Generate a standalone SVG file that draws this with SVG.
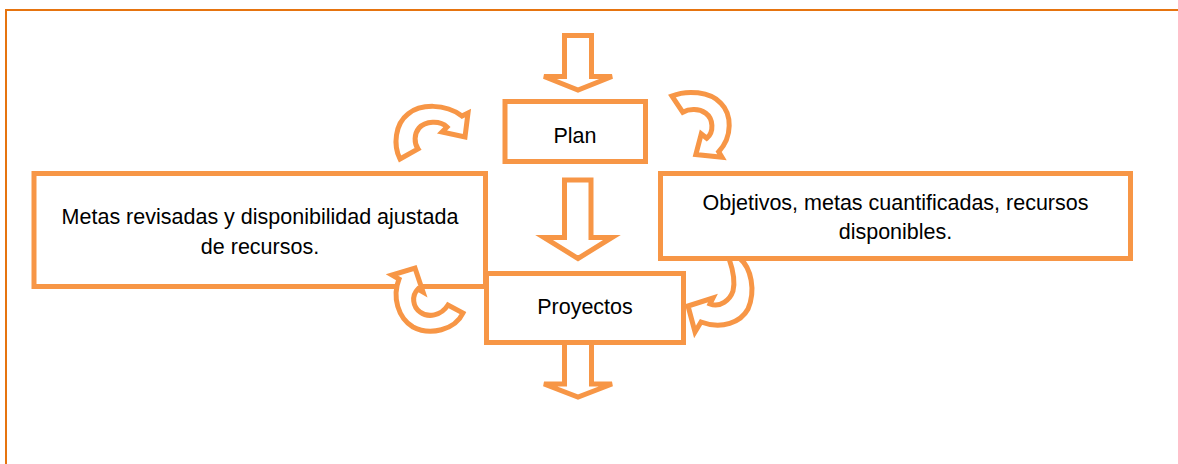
<svg xmlns="http://www.w3.org/2000/svg" width="1178" height="464" viewBox="0 0 1178 464">
<style>
.box{fill:#fff;stroke:#F79646;stroke-width:5}
.arr{fill:#fff;stroke:#F79646;stroke-width:5;stroke-linejoin:miter}
.curl{fill:#fff;stroke:#F79646;stroke-width:5;stroke-linejoin:miter}
.lbl{font-family:"Liberation Sans",Arial,sans-serif;font-size:21.5px;fill:#000;text-anchor:middle}
</style>
<defs>
<path id="curl" class="curl" vector-effect="non-scaling-stroke" d="M-30,24 C-37,10 -35,-11 -22,-21 C-10,-31 15,-32 32,-19 L38,-22 L35,2 L12,-3 L17,-8 C10,-15 -5,-14 -11,-7 C-16,-1 -16,8 -12,14 Z"/>
</defs>
<rect width="1178" height="464" fill="#fff"/>
<path d="M6,470 V10 H1180" fill="none" stroke="#E6740F" stroke-width="2"/>
<g id="node-plan">
<rect class="box" x="505" y="101.5" width="140.5" height="60"/>
<text class="lbl" x="575" y="143">Plan</text>
</g>
<g id="node-metas">
<rect class="box" x="34" y="173.5" width="451.5" height="113"/>
<text class="lbl" x="260" y="224">Metas revisadas y disponibilidad ajustada</text>
<text class="lbl" x="260" y="254">de recursos.</text>
</g>
<g id="node-objetivos">
<rect class="box" x="660.5" y="173.5" width="470" height="85"/>
<text class="lbl" x="895.5" y="210">Objetivos, metas cuantificadas, recursos</text>
<text class="lbl" x="895.5" y="239">disponibles.</text>
</g>
<g id="node-proyectos">
<rect class="box" x="486.5" y="273.5" width="197" height="69"/>
<text class="lbl" x="585" y="314">Proyectos</text>
</g>
<g id="connectors">
<path class="arr" d="M564.5,35.5 H591.5 V76.5 H612 L578,90 L544,76.5 H564.5 Z"/>
<path class="arr" d="M564.5,180 H591 V237.5 H612 L578,258.5 L544,237.5 H564.5 Z"/>
<path class="arr" d="M564.5,342.5 V384 H544 L578,397 L612,384 H591.5 V342.5 Z"/>
<use href="#curl" transform="translate(430,135)"/>
<use href="#curl" transform="translate(698,123) rotate(90) scale(0.9,1.09)"/>
<path class="curl" d="M740,258.5 C751,268 756,290 748,309 C741,322 722,330 701,322 L695,332 L688,306 L713,298 L710,304 C720,308 730,300 733,291 C735,283 733,270 729,258.5 Z"/>
<path class="curl" d="M463,313 C455,330 430,336 413,327 C398,318 392,297 399,279 L392,275 L415,268 L423,292 L418,289 C411,296 413,307 420,312 C428,318 441,316 448,305 Z"/>
</g>
</svg>
